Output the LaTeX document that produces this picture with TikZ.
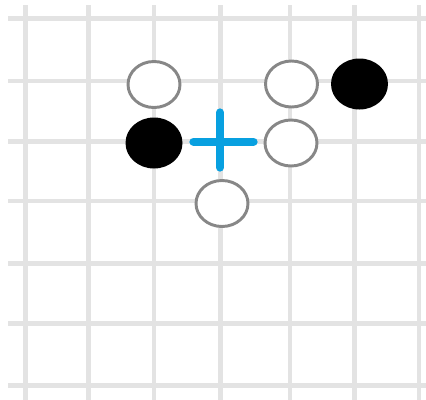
\documentclass[tikz,border=0pt]{standalone}
\usepackage{tikz}
\usetikzlibrary{shapes.geometric}

\definecolor{gridgray}{HTML}{E3E3E3}
\definecolor{rimgray}{HTML}{878787}
\definecolor{markblue}{HTML}{08A0E0}

\begin{document}
\begin{tikzpicture}[
  x=0.75pt, y=-0.75pt,
  gridline/.style = {draw=gridgray, line width=3.6pt},
  stoneW/.style   = {ellipse, draw=rimgray, line width=2.2pt, fill=white,
                     minimum width=39pt, minimum height=34.5pt, inner sep=0pt},
  stoneB/.style   = {ellipse, fill=black, minimum width=42.75pt,
                     minimum height=38.25pt, inner sep=0pt},
  markline/.style = {draw=markblue, line width=6.2pt, line cap=round}
]
\useasboundingbox (0,0) rectangle (426,400);
\fill[white] (0,0) rectangle (426,400);

% board lines
\foreach \gx in {25.7,88.7,154,220.3,290,354.7,419}
  \draw[gridline] (\gx,5) -- (\gx,402);
\foreach \gy in {18.3,81,141.7,201,263.3,323.3,385.7}
  \draw[gridline] (8,\gy) -- (428,\gy);

% stones
\node[stoneW] (w1) at (154,84.5) {};
\node[stoneB] (b1) at (154,143) {};
\node[stoneW] (w2) at (291.5,84) {};
\node[stoneB] (b2) at (359.5,84) {};
\node[stoneW] (w3) at (291,143) {};
\node[stoneW] (w4) at (222,203.5) {};

% marker
\coordinate (mL) at (193.5,141.7);
\coordinate (mR) at (253.5,141.7);
\coordinate (mT) at (220,112.5);
\coordinate (mB) at (220,167.5);
\draw[markline] (mL) -- (mR);
\draw[markline] (mT) -- (mB);

\end{tikzpicture}
\end{document}
